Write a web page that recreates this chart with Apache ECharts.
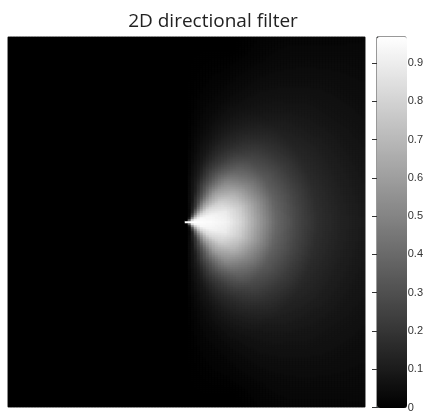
<!DOCTYPE html>
<html>
<head>
<meta charset="utf-8">
<script src="https://cdn.jsdelivr.net/npm/echarts@6/dist/echarts.min.js"></script>
<style>html,body{margin:0;padding:0;background:#fff;}#c{width:426px;height:413px;}</style>
</head>
<body>
<div id="c"></div>
<script>
// Filter response, as polar table: rows = angle (deg from +x), cols = radius (normalized freq)
const angles = [0, 15, 30, 45, 60, 75, 90];
const radii = [0, 0.022, 0.045, 0.085, 0.14, 0.225, 0.31, 0.39, 0.5, 0.62, 0.73, 0.87, 1.0, 1.18, 1.4];
const resp0  = [1.0, 0.98, 0.97, 0.96, 0.95, 0.92, 0.80, 0.62, 0.40, 0.27, 0.18, 0.13, 0.10, 0.07, 0.05];
const resp15 = [0.9, 0.85, 0.92, 0.94, 0.93, 0.89, 0.77, 0.60, 0.38, 0.26, 0.17, 0.12, 0.09, 0.065, 0.045];
const resp30 = [0.5, 0.45, 0.65, 0.78, 0.82, 0.78, 0.67, 0.52, 0.34, 0.23, 0.15, 0.11, 0.08, 0.055, 0.04];
const resp45 = [0.2, 0.15, 0.30, 0.48, 0.58, 0.60, 0.52, 0.40, 0.27, 0.18, 0.12, 0.085, 0.065, 0.045, 0.03];
const resp60 = [0.05, 0.03, 0.08, 0.18, 0.29, 0.34, 0.30, 0.23, 0.16, 0.11, 0.075, 0.055, 0.04, 0.025, 0.0];
const resp75 = [0.0, 0.0, 0.01, 0.05, 0.09, 0.12, 0.11, 0.09, 0.065, 0.045, 0.03, 0.015, 0.0, 0.0, 0.0];
const resp90 = [0, 0, 0, 0, 0, 0, 0, 0, 0, 0, 0, 0, 0, 0, 0];
const respTable = [resp0, resp15, resp30, resp45, resp60, resp75, resp90];
const colorbarTicks = [0, 0.1, 0.2, 0.3, 0.4, 0.5, 0.6, 0.7, 0.8, 0.9];
const valueMax = 0.968;
const NX = 119, NY = 185;

function lerpIdx(arr, v) {
  if (v <= arr[0]) return [0, 0];
  for (let i = 0; i < arr.length - 1; i++) {
    if (v <= arr[i + 1]) return [i, (v - arr[i]) / (arr[i + 1] - arr[i])];
  }
  return [arr.length - 2, 1];
}
function lookup(r, th) {
  if (th > 90) return 0;
  const [ai, at] = lerpIdx(angles, th);
  const [ri, rt] = lerpIdx(radii, r);
  const a = respTable[ai], b = respTable[ai + 1];
  const v0 = a[ri] * (1 - rt) + a[ri + 1] * rt;
  const v1 = b[ri] * (1 - rt) + b[ri + 1] * rt;
  return Math.max(0, Math.min(valueMax, v0 * (1 - at) + v1 * at));
}
const data = [];
const xs = [], ys = [];
for (let i = 0; i < NX; i++) xs.push(i);
for (let j = 0; j < NY; j++) ys.push(j);
for (let i = 0; i < NX; i++) {
  const fx = ((i + 0.5) / NX) * 2 - 1;
  for (let j = 0; j < NY; j++) {
    const fy = (((j + 0.5) / NY) * 2 - 1) * (370 / 357);
    const r = Math.sqrt(fx * fx + fy * fy);
    const th = Math.atan2(Math.abs(fy), fx) * 180 / Math.PI;
    data.push([i, j, lookup(r, th)]);
  }
}

const chart = echarts.init(document.getElementById('c'), null, {renderer: 'canvas'});
chart.setOption({
  backgroundColor: '#fff',
  animation: false,
  title: {
    text: '2D directional filter',
    left: 208, top: 7, textAlign: 'center',
    textStyle: {fontFamily: 'Open Sans', fontSize: 19, fontWeight: 'normal', color: '#222'}
  },
  grid: [
    {left: 8, top: 37, width: 357, height: 370, show: true, borderColor: '#888', borderWidth: 1, backgroundColor: '#000'},
    {left: 377, top: 37, width: 30, height: 371, show: true, borderColor: '#333', borderWidth: 1, backgroundColor: 'transparent'}
  ],
  xAxis: [
    {type: 'category', data: xs, gridIndex: 0, show: false},
    {type: 'value', gridIndex: 1, show: false, min: 0, max: 1}
  ],
  yAxis: [
    {type: 'category', data: ys, gridIndex: 0, show: false},
    {type: 'value', gridIndex: 1, position: 'right', min: 0, max: valueMax, interval: 0.1,
     axisLine: {show: false}, splitLine: {show: false},
     axisTick: {show: true, inside: true, length: 5, lineStyle: {color: '#333'}},
     axisLabel: {show: true, margin: 2, showMaxLabel: false, fontFamily: 'Liberation Sans', fontSize: 11, color: '#333',
       formatter: v => colorbarTicks.some(t => Math.abs(t - v) < 1e-6) ? String(Math.round(v * 10) / 10) : ''}},
    {type: 'value', gridIndex: 1, position: 'left', min: 0, max: valueMax, interval: 0.1,
     axisLine: {show: false}, splitLine: {show: false},
     axisTick: {show: true, inside: true, length: 5, lineStyle: {color: '#333'}},
     axisLabel: {show: false}}
  ],
  visualMap: {
    type: 'continuous', min: 0, max: valueMax, calculable: false, seriesIndex: 0,
    orient: 'vertical', left: 377, top: 37, itemWidth: 30, itemHeight: 371, padding: 0,
    text: null, showLabel: false,
    inRange: {color: ['#000000', '#ffffff']}
  },
  series: [
    {type: 'heatmap', xAxisIndex: 0, yAxisIndex: 0, data: data, progressive: 0, silent: true,
     emphasis: {disabled: true}, itemStyle: {borderWidth: 0}},
    {type: 'line', xAxisIndex: 1, yAxisIndex: 1, data: [], silent: true}
  ]
});
</script>
</body>
</html>
